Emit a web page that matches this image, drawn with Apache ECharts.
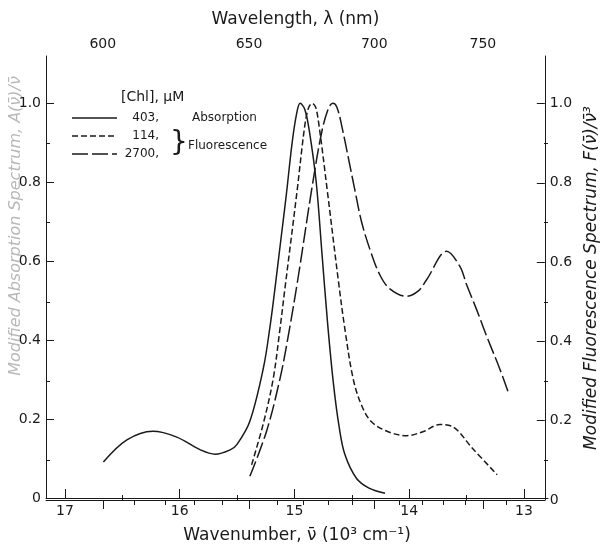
<!DOCTYPE html>
<html>
<head>
<meta charset="utf-8">
<script src="https://cdn.jsdelivr.net/npm/echarts@6/dist/echarts.min.js"></script>
<style>
  html, body { margin: 0; padding: 0; background: #fff; }
  #chart { width: 608px; height: 549px; }
</style>
</head>
<body>
<div id="chart"></div>
<script>
// wavenumber (10^3 cm^-1) , normalised spectrum
const absorption403 = [
  [16.665, 0.091], [16.46, 0.147], [16.235, 0.169], [16.03, 0.155], [15.82, 0.122],
  [15.69, 0.111], [15.56, 0.122], [15.50, 0.136], [15.39, 0.193], [15.27, 0.33],
  [15.21, 0.44], [15.17, 0.53], [15.12, 0.65], [15.07, 0.77], [15.02, 0.90],
  [14.98, 0.975], [14.95, 1.0], [14.91, 0.985], [14.87, 0.93], [14.81, 0.80],
  [14.76, 0.62], [14.71, 0.44], [14.66, 0.29], [14.61, 0.18], [14.56, 0.11],
  [14.46, 0.05], [14.35, 0.025], [14.21, 0.012]
];
const fluor114 = [
  [15.373, 0.084], [15.27, 0.19], [15.185, 0.302], [15.126, 0.428], [15.083, 0.53],
  [14.976, 0.78], [14.909, 0.945], [14.875, 0.99], [14.845, 1.0], [14.815, 0.99],
  [14.786, 0.945], [14.714, 0.78], [14.618, 0.553], [14.56, 0.428], [14.488, 0.302],
  [14.415, 0.235], [14.328, 0.193], [14.183, 0.168], [14.023, 0.158], [13.88, 0.168],
  [13.733, 0.186], [13.617, 0.18], [13.443, 0.124], [13.233, 0.059]
];
const fluor2700 = [
  [15.388, 0.055], [15.242, 0.17], [15.126, 0.302], [15.054, 0.41], [14.967, 0.56],
  [14.845, 0.79], [14.76, 0.93], [14.70, 0.99], [14.664, 1.0], [14.63, 0.99],
  [14.589, 0.945], [14.473, 0.78], [14.415, 0.70], [14.342, 0.63], [14.255, 0.565],
  [14.168, 0.530], [14.023, 0.511], [13.92, 0.525], [13.848, 0.553], [13.674, 0.625],
  [13.558, 0.587], [13.50, 0.541], [13.413, 0.478], [13.326, 0.411], [13.21, 0.327],
  [13.129, 0.262]
];

// tick values
const wavenumberTicks = [13, 14, 15, 16, 17];
const wavenumberMinor = [13.5, 14.5, 15.5, 16.5];
const wavelengthTicks = [600, 650, 700, 750];
const wavelengthMinor = [610, 620, 630, 640, 660, 670, 680, 690, 710, 720, 730, 740, 760];
const yTicks = [0, 0.2, 0.4, 0.6, 0.8, 1.0];
const yMinor = [0.1, 0.3, 0.5, 0.7, 0.9];

const X_MIN = 12.79, X_MAX = 17.165;
const Y_MAX = 1.12;
const INK = '#1a1a1a';
const FONT = 'DejaVu Sans';

const toNu = (lam) => 10000 / lam; // nm -> 10^3 cm^-1

let chart = echarts.init(document.getElementById('chart'), null, { renderer: 'canvas' });

// 4 grids on the same rect: major / minor ticks on each side
const rect = { left: 46, top: 56, width: 502, height: 444 };
const grids = [0, 1, 2, 3].map(() => Object.assign({}, rect));

function xAx(gi, pos, ticks, len, labels, extra) {
  return Object.assign({
    gridIndex: gi, type: 'value', min: X_MIN, max: X_MAX, inverse: true, position: pos,
    axisLine: { show: labels, lineStyle: { color: INK, width: 1 } },
    axisTick: { inside: true, length: len, customValues: ticks, lineStyle: { color: INK, width: 1 } },
    axisLabel: labels
      ? { customValues: ticks, color: INK, fontSize: 14, fontFamily: FONT, margin: 6, hideOverlap: false }
      : { show: false },
    splitLine: { show: false }
  }, extra || {});
}
function yAx(gi, pos, ticks, len, labels, extra) {
  return Object.assign({
    gridIndex: gi, type: 'value', min: 0, max: Y_MAX, position: pos,
    axisLine: { show: labels, lineStyle: { color: INK, width: 1 } },
    axisTick: { inside: true, length: len, customValues: ticks, lineStyle: { color: INK, width: 1 } },
    axisLabel: labels
      ? { customValues: ticks, color: INK, fontSize: 14, fontFamily: FONT, margin: 5,
          formatter: (v) => (v === 0 ? '0' : v.toFixed(1)) }
      : { show: false },
    splitLine: { show: false }
  }, extra || {});
}

const topAxis = xAx(1, 'top', wavelengthTicks.map(toNu), 9, true, {
  name: 'Wavelength, λ (nm)', nameLocation: 'middle', nameGap: 28,
  nameTextStyle: { color: INK, fontSize: 17, fontFamily: FONT }
});
topAxis.axisLabel.formatter = (v) => String(Math.round(10000 / v));
topAxis.axisLabel.margin = 5;

const lineSeries = (name, data, dash) => ({
  name: name, type: 'line', xAxisIndex: 0, yAxisIndex: 0, data: data,
  smooth: 0.35, symbol: 'none',
  lineStyle: { color: INK, width: 1.5, type: dash }
});

const option = {
  animation: false,
  backgroundColor: '#fff',
  grid: grids,
  xAxis: [
    xAx(0, 'bottom', wavenumberTicks, 9, true, {
      name: 'Wavenumber, ν\u0304 (10³ cm⁻¹)', nameLocation: 'middle', nameGap: 29,
      nameTextStyle: { color: INK, fontSize: 17, fontFamily: FONT }
    }),
    topAxis,
    xAx(2, 'bottom', wavenumberMinor, 5, false),
    xAx(3, 'top', wavelengthMinor.map(toNu), 5, false)
  ],
  yAxis: [
    yAx(0, 'left', yTicks, 8, true),
    yAx(1, 'right', yTicks, 8, true, {
      name: 'Modified Fluorescence Spectrum, F(ν\u0304)/ν\u0304³', nameLocation: 'middle', nameGap: 32,
      nameTextStyle: { color: INK, fontSize: 17, fontFamily: FONT, fontStyle: 'italic' }
    }),
    yAx(2, 'left', yMinor, 4, false),
    yAx(3, 'right', yMinor, 4, false)
  ],
  series: [
    lineSeries('403', absorption403, 'solid'),
    lineSeries('114', fluor114, [6, 3]),
    lineSeries('2700', fluor2700, [16, 4])
  ],
  graphic: [
    // faint left axis title
    {
      type: 'text', x: 16, y: 226, rotation: Math.PI / 2,
      style: {
        text: 'Modified Absorption Spectrum, A(ν\u0304)/ν\u0304', fill: '#b8b8b8',
        font: 'italic 16px "DejaVu Sans"', align: 'center', verticalAlign: 'middle'
      }
    },
    // legend
    { type: 'text', x: 121, y: 97, style: { text: '[Chl], μM', fill: INK, font: '14px "DejaVu Sans"', verticalAlign: 'middle' } },
    { type: 'line', shape: { x1: 72, y1: 118, x2: 117, y2: 118 }, style: { stroke: INK, lineWidth: 1.5 } },
    { type: 'line', shape: { x1: 72, y1: 136, x2: 117, y2: 136 }, style: { stroke: INK, lineWidth: 1.5, lineDash: [6, 3] } },
    { type: 'line', shape: { x1: 72, y1: 154, x2: 117, y2: 154 }, style: { stroke: INK, lineWidth: 1.5, lineDash: [16, 4] } },
    { type: 'text', x: 159, y: 118, style: { text: '403,', fill: INK, font: '12px "DejaVu Sans"', align: 'right', verticalAlign: 'middle' } },
    { type: 'text', x: 192, y: 118, style: { text: 'Absorption', fill: INK, font: '12px "DejaVu Sans"', verticalAlign: 'middle' } },
    { type: 'text', x: 159, y: 136, style: { text: '114,', fill: INK, font: '12px "DejaVu Sans"', align: 'right', verticalAlign: 'middle' } },
    { type: 'text', x: 159, y: 154, style: { text: '2700,', fill: INK, font: '12px "DejaVu Sans"', align: 'right', verticalAlign: 'middle' } },
    { type: 'text', x: 179, y: 144, style: { text: '}', fill: INK, font: '28px "DejaVu Sans"', align: 'center', verticalAlign: 'middle' } },
    { type: 'text', x: 188, y: 146, style: { text: 'Fluorescence', fill: INK, font: '12px "DejaVu Sans"', verticalAlign: 'middle' } }
  ]
};

chart.setOption(option, true);
window.addEventListener('resize', () => { chart.resize(); });
</script>
</body>
</html>
